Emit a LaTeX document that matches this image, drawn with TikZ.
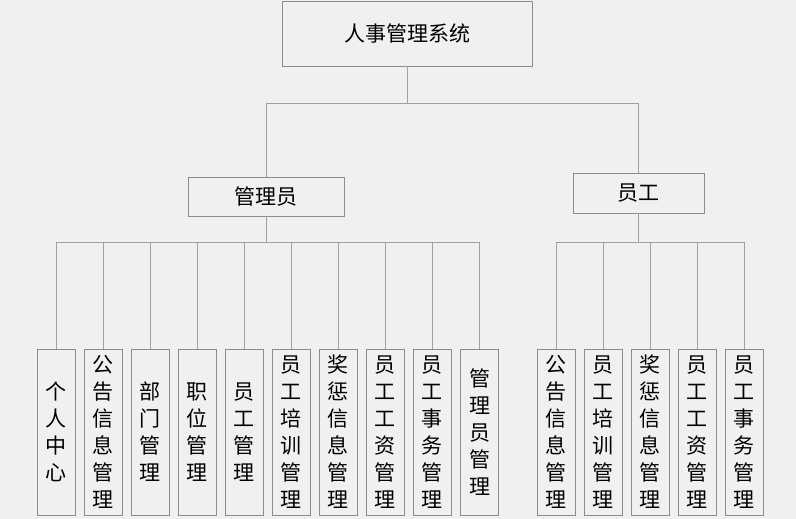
\documentclass[tikz,border=0pt]{standalone}
\usepackage{fontspec}
\setmainfont{Noto Sans CJK SC}
\usepackage{tikz}
\usetikzlibrary{positioning}
\definecolor{bggray}{HTML}{F0F0F0}
\definecolor{linegray}{HTML}{A0A0A0}
\definecolor{boxgray}{HTML}{8C8C8C}
\tikzset{
  box/.style={draw=boxgray, line width=0.8pt, fill=bggray, inner sep=0pt, font=\fontsize{21}{24}\selectfont},
  leaf/.style={box, minimum width=38pt, minimum height=166pt, text width=38pt, align=center, font=\fontsize{21}{27}\selectfont},
  link/.style={draw=linegray, line width=0.8pt}
}
\begin{document}
\begin{tikzpicture}[x=1pt, y=-1pt]
\fill[bggray] (0,0) rectangle (796,519);

% top nodes
\node[box, minimum width=250pt, minimum height=65pt] (sys) at (407,33.5) {人事管理系统};
\node[box, minimum width=156pt, minimum height=39pt] (admin) at (266,196.5) {管理员};
\node[box, minimum width=131pt, minimum height=40pt] (staff) at (638.5,193) {员工};

% admin leaves
\node[leaf] (a1) at (56,432) {个\\人\\中\\心};
\node[leaf] (a2) at (103,432) {公\\告\\信\\息\\管\\理};
\node[leaf] (a3) at (150,432) {部\\门\\管\\理};
\node[leaf] (a4) at (197,432) {职\\位\\管\\理};
\node[leaf] (a5) at (244,432) {员\\工\\管\\理};
\node[leaf] (a6) at (291,432) {员\\工\\培\\训\\管\\理};
\node[leaf] (a7) at (338,432) {奖\\惩\\信\\息\\管\\理};
\node[leaf] (a8) at (385,432) {员\\工\\工\\资\\管\\理};
\node[leaf] (a9) at (432,432) {员\\工\\事\\务\\管\\理};
\node[leaf] (a10) at (479.5,432) {管\\理\\员\\管\\理};

% staff leaves
\node[leaf] (b1) at (556,432) {公\\告\\信\\息\\管\\理};
\node[leaf] (b2) at (603,432) {员\\工\\培\\训\\管\\理};
\node[leaf] (b3) at (650,432) {奖\\惩\\信\\息\\管\\理};
\node[leaf] (b4) at (697,432) {员\\工\\工\\资\\管\\理};
\node[leaf] (b5) at (744,432) {员\\工\\事\\务\\管\\理};

% bars
\coordinate (topbar) at (407,103);
\coordinate (abar) at (266,242);
\coordinate (bbar) at (638.5,242);

% links from the system box
\draw[link] (sys.south) -- (topbar) -| (admin.north);
\draw[link] (sys.south) -- (topbar) -| (staff.north);

% links for the admin
\draw[link] (admin.south) -- (abar) -| (a1.north);
\draw[link] (admin.south) -- (abar) -| (a2.north);
\draw[link] (admin.south) -- (abar) -| (a3.north);
\draw[link] (admin.south) -- (abar) -| (a4.north);
\draw[link] (admin.south) -- (abar) -| (a5.north);
\draw[link] (admin.south) -- (abar) -| (a6.north);
\draw[link] (admin.south) -- (abar) -| (a7.north);
\draw[link] (admin.south) -- (abar) -| (a8.north);
\draw[link] (admin.south) -- (abar) -| (a9.north);
\draw[link] (admin.south) -- (abar) -| (a10.north);

% links for the staff
\draw[link] (staff.south) -- (bbar) -| (b1.north);
\draw[link] (staff.south) -- (bbar) -| (b2.north);
\draw[link] (staff.south) -- (bbar) -| (b3.north);
\draw[link] (staff.south) -- (bbar) -| (b4.north);
\draw[link] (staff.south) -- (bbar) -| (b5.north);
\end{tikzpicture}
\end{document}
